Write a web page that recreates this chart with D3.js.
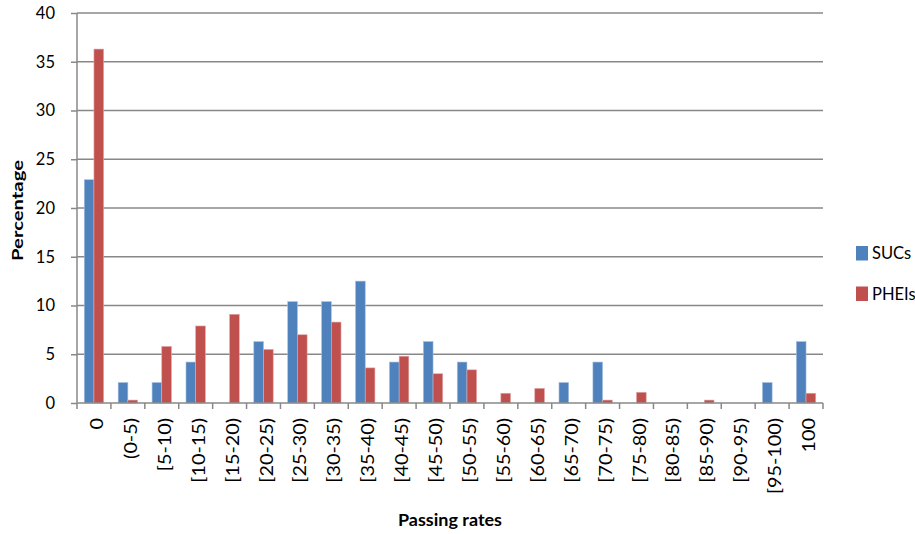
<!DOCTYPE html>
<html>
<head>
<meta charset="utf-8">
<script src="https://cdn.jsdelivr.net/npm/d3@7"></script>
<style>
  body { margin: 0; background: #fff; }
  svg text { font-family: Lato, "Open Sans", sans-serif; fill: #000; }
</style>
</head>
<body>
<svg id="chart" width="915" height="534"></svg>
<script>
// passing-rate bins and the share of each type of institution in them
const categories = ["0", "(0-5)", "[5-10)", "[10-15)", "[15-20)", "[20-25)", "[25-30)", "[30-35)",
  "[35-40)", "[40-45)", "[45-50)", "[50-55)", "[55-60)", "[60-65)", "[65-70)", "[70-75)",
  "[75-80)", "[80-85)", "[85-90)", "[90-95)", "[95-100)", "100"];
const sucs  = [22.9, 2.1, 2.1, 4.2, 0, 6.3, 10.4, 10.4, 12.5, 4.2, 6.3, 4.2, 0, 0, 2.1, 4.2, 0, 0, 0, 0, 2.1, 6.3];
const pheis = [36.3, 0.3, 5.8, 7.9, 9.1, 5.5, 7.0, 8.3, 3.6, 4.8, 3.0, 3.4, 1.0, 1.5, 0, 0.3, 1.1, 0, 0.3, 0, 0, 1.0];
const yTicks = [0, 5, 10, 15, 20, 25, 30, 35, 40];
const seriesNames = ["SUCs", "PHEIs"];
const colors = ["#4F81BD", "#C0504D"];
const edges = ["#A7C0DE", "#DFA8A6"];

const svg = d3.select("#chart");
const pLeft = 77, pRight = 823, pTop = 13, pBottom = 403;
const gridColor = "#888888";

const x = d3.scaleBand().domain(categories).range([pLeft, pRight]);
const y = d3.scaleLinear().domain([0, 40]).range([pBottom, pTop]);
const bw = x.bandwidth() / 3.5;

// horizontal gridlines
svg.append("g").selectAll("line").data(yTicks.filter(d => d > 0)).join("line")
  .attr("x1", pLeft).attr("x2", pRight)
  .attr("y1", d => y(d)).attr("y2", d => y(d))
  .attr("stroke", gridColor).attr("stroke-width", 1.5);

// bars
const series = [sucs, pheis];
series.forEach(function(vals, s) {
  svg.append("g").selectAll("rect").data(vals).join("rect")
    .attr("x", (d, i) => x(categories[i]) + x.bandwidth() / 2 - bw + s * bw)
    .attr("width", bw)
    .attr("y", d => y(d))
    .attr("height", d => pBottom - y(d))
    .attr("fill", colors[s])
    .attr("stroke", d => d > 0 ? edges[s] : "none")
    .attr("stroke-width", 0.6);
});

// y axis
const yAxis = svg.append("g").attr("transform", `translate(${pLeft},0)`)
  .call(d3.axisLeft(y).tickValues(yTicks).tickSize(6).tickPadding(16));
yAxis.select(".domain").attr("stroke", gridColor).attr("stroke-width", 1.5).attr("d", `M0,${pTop}V${pBottom}`);
yAxis.selectAll(".tick line").attr("stroke", gridColor).attr("stroke-width", 1.5);
yAxis.selectAll(".tick text").attr("font-size", 16.5).attr("font-family", "Lato, sans-serif").attr("fill", "#000");

// x axis: ticks at category boundaries
const xg = svg.append("g");
xg.append("line").attr("x1", pLeft).attr("x2", pRight).attr("y1", pBottom).attr("y2", pBottom)
  .attr("stroke", gridColor).attr("stroke-width", 1.5);
const bounds = categories.map(c => x(c)).concat([pRight]);
xg.selectAll("line.tk").data(bounds).join("line").attr("class", "tk")
  .attr("x1", d => d).attr("x2", d => d).attr("y1", pBottom).attr("y2", pBottom + 6)
  .attr("stroke", gridColor).attr("stroke-width", 1.5);
xg.selectAll("text").data(categories).join("text")
  .attr("transform", d => `translate(${x(d) + x.bandwidth() / 2 + 9},${pBottom + 15}) rotate(-90) scale(1.2,1)`)
  .attr("text-anchor", "end")
  .attr("font-size", 16.5)
  .text(d => d);

// axis titles
svg.append("text").attr("transform", `translate(23,210.5) rotate(-90)`)
  .attr("text-anchor", "middle").attr("font-size", 15.5).attr("font-weight", "bold")
  .attr("textLength", 101).attr("lengthAdjust", "spacingAndGlyphs").text("Percentage");
svg.append("text").attr("x", 450).attr("y", 526)
  .attr("text-anchor", "middle").attr("font-size", 17).attr("font-weight", "bold")
  .attr("textLength", 104).attr("lengthAdjust", "spacingAndGlyphs").text("Passing rates");

// legend
const lg = svg.append("g").selectAll("g").data(seriesNames).join("g")
  .attr("transform", (d, i) => `translate(856,${246 + i * 40.5})`);
lg.append("rect").attr("width", 12).attr("height", 14.5).attr("fill", (d, i) => colors[i]);
lg.append("text").attr("x", 16).attr("y", 13).attr("font-size", 16.5).text(d => d);
</script>
</body>
</html>
